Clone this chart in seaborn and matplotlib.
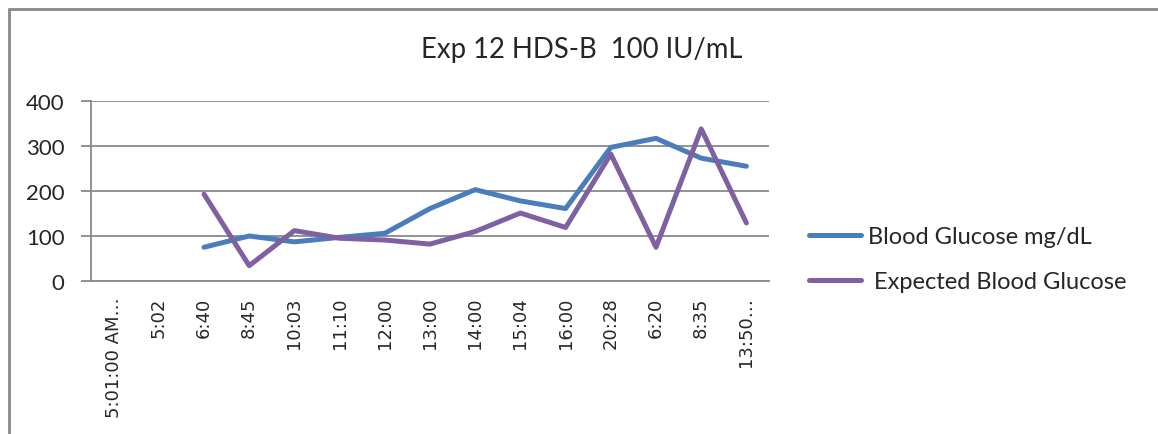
import matplotlib
matplotlib.use("Agg")
import matplotlib.pyplot as plt
import seaborn as sns
import numpy as np
import pandas as pd
from matplotlib.lines import Line2D

categories = ["5:01:00 AM…", "5:02", "6:40", "8:45", "10:03", "11:10", "12:00",
              "13:00", "14:00", "15:04", "16:00", "20:28", "6:20", "8:35", "13:50…"]
blood_glucose = [np.nan, np.nan, 75, 100, 87, 97, 106, 161, 203, 178, 161, 297, 317, 273, 255]
expected_glucose = [np.nan, np.nan, 193, 34, 112, 95, 91, 82, 110, 151, 119, 282, 75, 338, 129]
series_names = ["Blood Glucose mg/dL", " Expected Blood Glucose"]
colors = ["#4A7EBB", "#7F60A0"]

sns.set_style("white")
plt.rcParams['font.family'] = ['Lato', 'DejaVu Sans']

fig = plt.figure(figsize=(11.58, 4.35), dpi=100)
ax = fig.add_axes([91/1158, 1-282/435, (769-91)/1158, (282-102)/435])

pos = np.arange(len(categories))
df = pd.DataFrame({"pos": np.concatenate([pos, pos]),
                   "value": blood_glucose + expected_glucose,
                   "series": [series_names[0]]*len(pos) + [series_names[1]]*len(pos)})
sns.lineplot(data=df, x="pos", y="value", hue="series", palette=colors, ax=ax,
             linewidth=3.6, legend=False, solid_capstyle="round", solid_joinstyle="round")

ax.set_xlim(-0.5, len(categories)-0.5)
ax.set_ylim(0, 400)
ax.set_yticks([0, 100, 200, 300, 400])
ax.set_yticklabels(["0", "100", "200", "300", "400"], fontsize=16)
ax.yaxis.grid(True, color="#898989", linewidth=1.3)
ax.set_axisbelow(True)
ax.set_xticks(pos)
ax.set_xticklabels(categories, rotation=90, fontsize=13)
for lbl in ax.get_xticklabels():
    lbl.set_fontfamily("DejaVu Sans")
ax.set_xticks(np.arange(-0.5, len(categories)), minor=True)
ax.tick_params(axis="x", which="major", length=0, pad=11)
ax.tick_params(axis="x", which="minor", length=7, color="#898989", width=1.3)
ax.tick_params(axis="y", length=7, color="#898989", width=1.3, left=True, pad=12)
ax.set_xlabel("")
ax.set_ylabel("")
for s in ["top", "right"]:
    ax.spines[s].set_visible(False)
for s in ["left", "bottom"]:
    ax.spines[s].set_color("#898989")
    ax.spines[s].set_linewidth(1.3)

fig.text(582/1158, 1-50/435, "Exp 12 HDS-B  100 IU/mL", ha="center", va="center", fontsize=19.8)

handles = [Line2D([0], [0], color=c, linewidth=3.6, solid_capstyle="round") for c in colors]
fig.legend(handles, series_names, loc="center left", bbox_to_anchor=(788/1158, 1-260/435),
           frameon=False, fontsize=17, handlelength=2.2, handletextpad=0.3, labelspacing=1.0)

fig.add_artist(Line2D([8.5/1158, 8.5/1158], [0, 1-10/435], color="#888888", linewidth=2, transform=fig.transFigure))
fig.add_artist(Line2D([8.5/1158, 1], [1-10/435, 1-10/435], color="#888888", linewidth=2, transform=fig.transFigure))

fig.savefig("out.png", dpi=100)
